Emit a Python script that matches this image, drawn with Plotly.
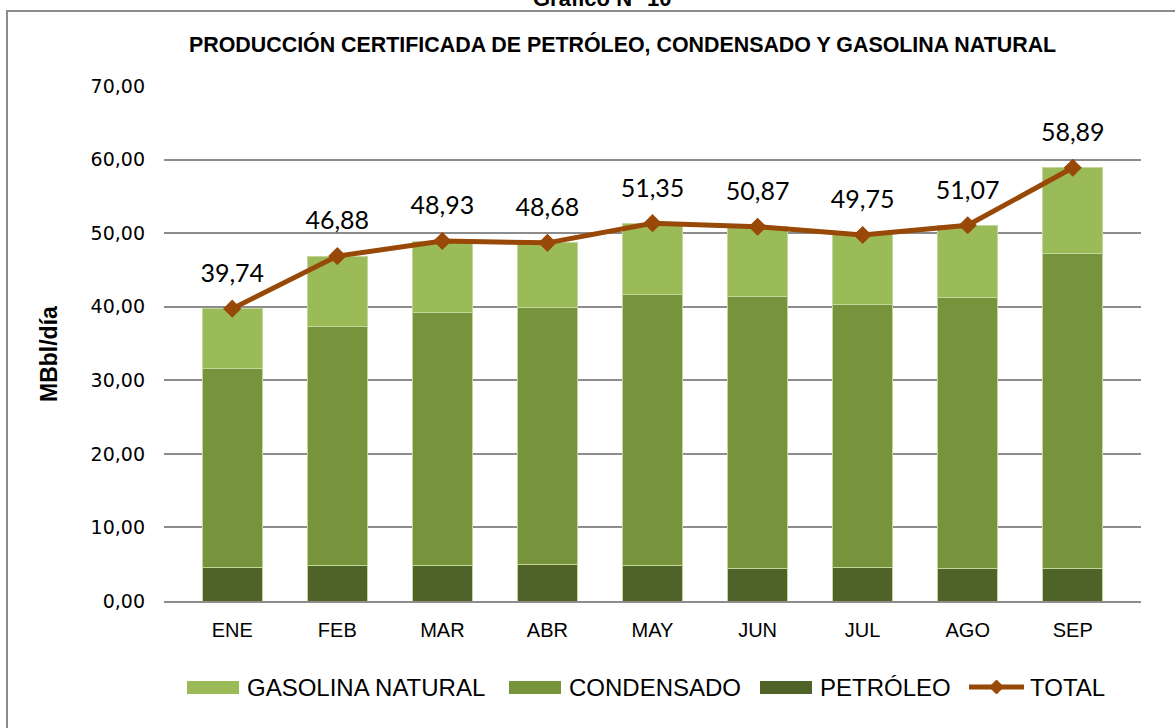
import plotly.graph_objects as go

meses = ["ENE", "FEB", "MAR", "ABR", "MAY", "JUN", "JUL", "AGO", "SEP"]
petroleo = [4.53, 4.76, 4.76, 4.90, 4.76, 4.48, 4.62, 4.48, 4.48]
condensado = [27.07, 32.54, 34.44, 35.00, 36.94, 36.92, 35.68, 36.82, 42.82]
gasolina = [8.14, 9.58, 9.73, 8.78, 9.65, 9.47, 9.45, 9.77, 11.59]
total = [39.74, 46.88, 48.93, 48.68, 51.35, 50.87, 49.75, 51.07, 58.89]
y_ticks = [0, 10, 20, 30, 40, 50, 60, 70]

C_PET = "#4F6228"
C_CON = "#77933C"
C_GAS = "#9BBB59"
C_TOT = "#984807"
EDGE = "#C3D69B"

L, R, T, B = 164, 34, 86, 127
W, H = 1175, 728
PW, PH = W - L - R, H - T - B


def px(x):
    return (x - L) / PW


def py(y):
    return (H - B - y) / PH


fig = go.Figure()
for name, vals, col in [("PETRÓLEO", petroleo, C_PET),
                        ("CONDENSADO", condensado, C_CON),
                        ("GASOLINA NATURAL", gasolina, C_GAS)]:
    fig.add_trace(go.Bar(x=meses, y=vals, name=name, width=0.57,
                         marker=dict(color=col, line=dict(color=EDGE, width=1)),
                         showlegend=False, hoverinfo="y"))

fig.add_trace(go.Scatter(
    x=meses, y=total, name="TOTAL", mode="lines+markers",
    line=dict(color=C_TOT, width=5),
    marker=dict(symbol="diamond", size=14, color=C_TOT),
    showlegend=False, cliponaxis=False))

# data labels (text raised above the markers through an invisible marker)
fig.add_trace(go.Scatter(
    x=meses, y=total, mode="markers+text", hoverinfo="skip",
    marker=dict(size=31, color="rgba(0,0,0,0)"),
    text=[f"{v:.2f}".replace(".", ",") for v in total],
    textposition="top center",
    textfont=dict(family="Lato, Open Sans, sans-serif", size=25, color="#000"),
    showlegend=False, cliponaxis=False))

shapes = [
    dict(type="rect", xref="paper", yref="paper",
         x0=px(7), x1=px(1185), y0=py(740), y1=py(11),
         line=dict(color="#8C8C8C", width=2), fillcolor="rgba(0,0,0,0)", layer="below"),
]
annotations = [
    dict(text="<b>Gráfico N° 10</b>", xref="paper", yref="paper", x=px(602), y=py(-1),
         xanchor="center", yanchor="middle", showarrow=False,
         font=dict(family="Liberation Sans, Arial", size=22, color="#000")),
    dict(text="<b>PRODUCCIÓN CERTIFICADA DE PETRÓLEO, CONDENSADO Y GASOLINA NATURAL</b>",
         xref="paper", yref="paper", x=px(622), y=py(44), xanchor="center", yanchor="middle",
         showarrow=False,
         font=dict(family="Liberation Sans Narrow, Arial Narrow, Liberation Sans", size=21.4, color="#000")),
    dict(text="<b>MBbl/día</b>", xref="paper", yref="paper", x=px(49), y=py(354),
         xanchor="center", yanchor="middle", textangle=-90, showarrow=False,
         font=dict(family="Liberation Sans, Arial", size=23, color="#000")),
]

# legend (custom)
leg_y = 687
for x0, x1, col, tx, label in [(187, 239, C_GAS, 245, "GASOLINA NATURAL"),
                               (509, 561, C_CON, 567, "CONDENSADO"),
                               (760, 812, C_PET, 818, "PETRÓLEO")]:
    shapes.append(dict(type="rect", xref="paper", yref="paper", x0=px(x0), x1=px(x1),
                       y0=py(694), y1=py(681), fillcolor=col, line=dict(width=0)))
    annotations.append(dict(text=label, xref="paper", yref="paper", x=px(tx), y=py(leg_y),
                            xanchor="left", yanchor="middle", showarrow=False,
                            font=dict(family="Liberation Sans, Arial", size=24, color="#000")))
shapes.append(dict(type="line", xref="paper", yref="paper", x0=px(969), x1=px(1024),
                   y0=py(leg_y), y1=py(leg_y), line=dict(color=C_TOT, width=5)))
cx, cy = px(996.5), py(leg_y)
dx, dy = 7 / PW, 7 / PH
shapes.append(dict(type="path", xref="paper", yref="paper",
                   path=f"M {cx-dx} {cy} L {cx} {cy+dy} L {cx+dx} {cy} L {cx} {cy-dy} Z",
                   fillcolor=C_TOT, line=dict(color=C_TOT, width=1)))
annotations.append(dict(text="TOTAL", xref="paper", yref="paper", x=px(1028), y=py(leg_y),
                        xanchor="left", yanchor="middle", showarrow=False,
                        font=dict(family="Liberation Sans, Arial", size=24, color="#000")))

fig.update_layout(
    width=W, height=H, barmode="stack", separators=",.",
    margin=dict(l=L, r=R, t=T, b=B, autoexpand=False),
    paper_bgcolor="white", plot_bgcolor="white",
    shapes=shapes, annotations=annotations, showlegend=False,
    xaxis=dict(showgrid=False, showline=True, linecolor="#8C8C8C", linewidth=2,
               ticks="", tickfont=dict(family="Liberation Sans, Arial", size=20, color="#000"),
               ticklabelstandoff=10),
    yaxis=dict(range=[0, 70], tickvals=y_ticks, tickformat=".2f",
               showgrid=True, gridcolor="#8C8C8C", gridwidth=2, zeroline=False,
               showline=False, ticks="",
               tickfont=dict(family="DejaVu Sans", size=19, color="#000"),
               ticklabelstandoff=18),
)

fig.write_html("out.html", config={"displayModeBar": False},
               post_script="document.body.style.margin='0';document.body.style.overflow='hidden';")
